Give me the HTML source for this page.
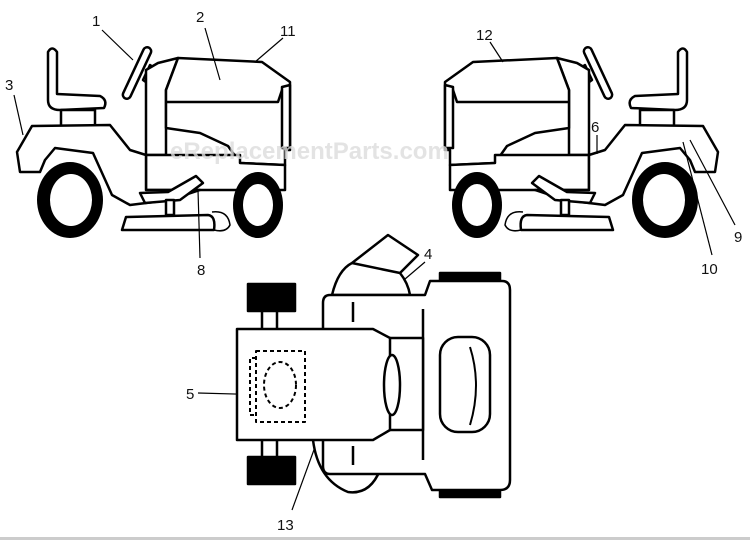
<!DOCTYPE html>
<html><head><meta charset="utf-8"><style>
html,body{margin:0;padding:0;background:#fff;}
svg{display:block}
text{font-family:"Liberation Sans",sans-serif;font-size:15px;fill:#111}
</style></head><body>
<svg width="750" height="540" viewBox="0 0 750 540" xmlns="http://www.w3.org/2000/svg">
<defs>
<g id="tr" fill="#fff" stroke="#000" stroke-width="2.5" stroke-linejoin="round">
  <!-- seat -->
  <path d="M48,52 Q52,45 57,52 L57,94 L100,96 Q108,100 104,108 L60,110 Q48,110 48,100 Z"/>
  <rect x="61" y="110" width="34" height="16"/>
  <!-- steering -->
  <path d="M150,65 L158,70 L150,85 L143,80 Z"/>
  <rect x="-4" y="-28" width="8" height="56" rx="4" transform="translate(137,73) rotate(25)"/>
  <!-- dash column -->
  <path d="M146,155 L146,70 L158,63 L178,58 L166,90 L166,155 Z"/>
  <!-- hood -->
  <path d="M178,58 L262,62 L290,82 L290,150 L285,150 L285,165 L240,163 L228,146 L200,133 L166,128 L166,102 L166,90 Z"/>
  <path d="M166,102 L278,102 L282,90 L290,85" fill="none"/>
  <path d="M282,87 L290,85 L290,148 L282,148 Z"/>
  <!-- chassis -->
  <path d="M146,155 L240,155 L240,163 L285,165 L285,190 L146,190 Z"/>
  <!-- rear fender body -->
  <path d="M20,172 L17,152 L32,126 L110,125 L130,150 L146,155 L146,190 L200,190 L185,195 L170,200 L130,205 L112,195 L93,153 L55,148 L45,160 L40,172 Z"/>
  <!-- footrest / pedal -->
  <path d="M140,193 L168,192 L196,176 L203,183 L180,200 L145,203 Z"/>
  <rect x="166" y="200" width="8" height="15"/>
  <!-- deck -->
  <path d="M122,230 L126,217 L208,215 Q216,216 214,230 Z"/>
  <path d="M212,212 Q228,210 230,225 Q226,233 214,230" fill="none" stroke-width="1.5"/>
  <!-- wheels -->
  <ellipse cx="70" cy="200" rx="33" ry="38" fill="#000" stroke="none"/>
  <ellipse cx="71" cy="200" rx="21" ry="26" fill="#fff" stroke="none"/>
  <ellipse cx="258" cy="205" rx="25" ry="33" fill="#000" stroke="none"/>
  <ellipse cx="258" cy="205" rx="15" ry="21" fill="#fff" stroke="none"/>
</g>
</defs>
<use href="#tr"/>
<use href="#tr" transform="translate(735,0) scale(-1,1)"/>
<text x="170" y="159" style="font-size:24px;fill:#ddd;font-weight:bold" opacity="0.8">eReplacementParts.com</text>

<!-- labels left -->
<g stroke="#000" stroke-width="1.2">
<line x1="102" y1="30" x2="133" y2="60"/>
<line x1="205" y1="28" x2="220" y2="80"/>
<line x1="283" y1="38" x2="255" y2="62"/>
<line x1="14" y1="95" x2="23" y2="135"/>
<line x1="200" y1="258" x2="198" y2="190"/>
<line x1="490" y1="42" x2="503" y2="62"/>
<line x1="597" y1="135" x2="597" y2="154"/>
<line x1="735" y1="225" x2="690" y2="140"/>
<line x1="712" y1="255" x2="683" y2="142"/>
<line x1="425" y1="262" x2="398" y2="285"/>
<line x1="198" y1="393" x2="272" y2="395"/>
<line x1="292" y1="510" x2="315" y2="447"/>
</g>
<text x="92" y="26">1</text>
<text x="196" y="22">2</text>
<text x="280" y="36">11</text>
<text x="5" y="90">3</text>
<text x="197" y="275">8</text>
<text x="476" y="40">12</text>
<text x="591" y="132">6</text>
<text x="734" y="242">9</text>
<text x="701" y="274">10</text>
<text x="424" y="259">4</text>
<text x="186" y="399">5</text>
<text x="277" y="530">13</text>

<!-- top view -->
<g fill="#fff" stroke="#000" stroke-width="2.5" stroke-linejoin="round">
  <rect x="248" y="284" width="47" height="27" fill="#000"/>
  <rect x="248" y="457" width="47" height="27" fill="#000"/>
  <rect x="262" y="311" width="15" height="20"/>
  <rect x="262" y="439" width="15" height="18"/>
  <path d="M313,440 Q318,480 348,492 Q370,495 380,470" fill="none"/>
  <path d="M332,295 Q338,270 352,263 L388,235 L418,255 L400,273 Q408,283 410,295 Z"/>
  <path d="M352,263 L400,273" fill="none"/>
  <rect x="440" y="273" width="60" height="10" fill="#000"/>
  <rect x="440" y="487" width="60" height="10" fill="#000"/>
  <path d="M330,295 L425,295 L430,281 L502,281 Q510,281 510,290 L510,480 Q510,490 500,490 L432,490 L425,474 L330,474 Q323,474 323,466 L323,303 Q323,295 330,295 Z"/>
  <line x1="423" y1="309" x2="423" y2="460"/>
  <line x1="353" y1="302" x2="353" y2="322"/>
  <line x1="353" y1="446" x2="353" y2="465"/>
  <rect x="440" y="337" width="50" height="95" rx="18"/>
  <path d="M470,347 Q482,385 470,425" fill="none" stroke-width="2"/>
  <rect x="388" y="338" width="35" height="92"/>
  <path d="M237,329 L373,329 L390,338 L390,430 L373,440 L237,440 Z"/>
  <ellipse cx="392" cy="385" rx="8" ry="30"/>
  <g fill="none" stroke-width="2" stroke-dasharray="4,3">
    <rect x="256" y="351" width="49" height="71"/>
    <path d="M256,358 L250,358 L250,415 L256,415"/>
    <ellipse cx="280" cy="385" rx="16" ry="23"/>
  </g>
</g>
<rect x="0" y="537" width="750" height="3" fill="#ccc"/>
</svg>
</body></html>
